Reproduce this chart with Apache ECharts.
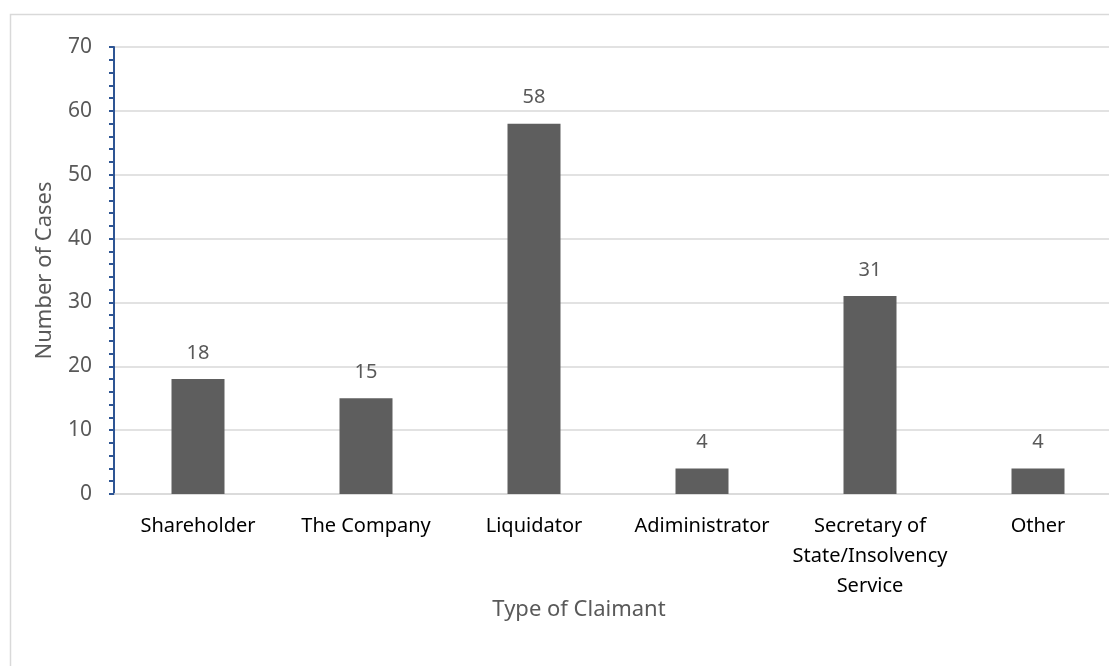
<!DOCTYPE html>
<html><head><meta charset="utf-8">
<script src="https://cdn.jsdelivr.net/npm/echarts@6/dist/echarts.min.js"></script>
<style>html,body{margin:0;padding:0;background:#fff;overflow:hidden;width:1109px;height:666px}#c{width:1140px;height:666px}</style>
</head><body><div id="c"></div>
<script>
const categories = ["Shareholder", "The Company", "Liquidator", "Adiministrator", "Secretary of\nState/Insolvency\nService", "Other"];
const values = [18, 15, 58, 4, 31, 4];
const yTicks = { min: 0, max: 70, interval: 10 };
const yAxisTitle = "Number of Cases";
const xAxisTitle = "Type of Claimant";

const FONT = "'Noto Sans', 'Open Sans', sans-serif";
const chart = echarts.init(document.getElementById('c'));
chart.setOption({
  animation: false,
  backgroundColor: '#fff',
  grid: { left: 114, top: 47, width: 1008, height: 447, containLabel: false },
  graphic: [
    { type: 'rect', shape: { x: 10.5, y: 14.5, width: 1300, height: 900 }, style: { fill: 'none', stroke: '#d9d9d9', lineWidth: 1.5 }, z: -1 },
    { type: 'text', x: 579, y: 610, style: { text: xAxisTitle, font: "22px " + FONT, fill: '#595959', textAlign: 'center', textVerticalAlign: 'middle' } }
  ],
  xAxis: {
    type: 'category',
    data: categories,
    axisLine: { show: true, lineStyle: { color: '#d9d9d9', width: 1.5 } },
    axisTick: { show: false },
    axisLabel: { color: '#000', fontSize: 20, fontFamily: FONT, margin: 17, lineHeight: 30, interval: 0 }
  },
  yAxis: {
    type: 'value',
    min: yTicks.min, max: yTicks.max, interval: yTicks.interval,
    name: yAxisTitle,
    nameLocation: 'middle',
    nameGap: 69,
    nameTextStyle: { color: '#595959', fontSize: 22, fontFamily: FONT, verticalAlign: 'middle' },
    axisLine: { show: true, lineStyle: { color: '#2e5594', width: 2 } },
    axisTick: { show: true, inside: false, length: 5, lineStyle: { color: '#2e5594', width: 2 } },
    minorTick: { show: true, splitNumber: 5, length: 5, lineStyle: { color: '#2e5594', width: 2 } },
    axisLabel: { color: '#595959', fontSize: 21, fontFamily: FONT, margin: 22 },
    splitLine: { show: true, lineStyle: { color: '#d9d9d9', width: 1.5 } }
  },
  series: [{
    type: 'bar',
    data: values,
    barWidth: 53,
    itemStyle: { color: '#5e5e5e' },
    label: { show: true, position: 'top', distance: 16, lineHeight: 20, color: '#595959', fontSize: 20, fontFamily: FONT }
  }]
});
</script></body></html>
